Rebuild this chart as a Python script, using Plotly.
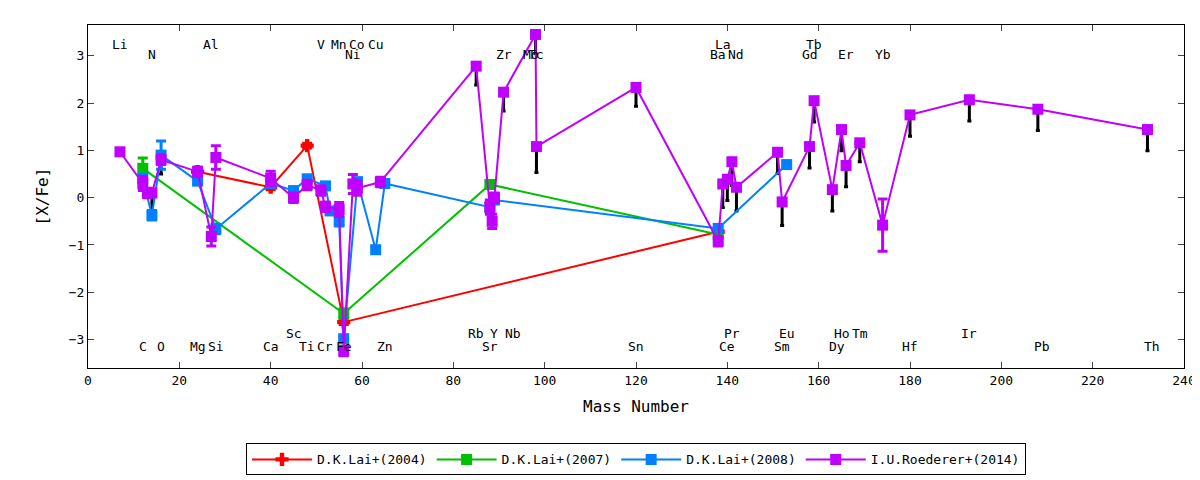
import plotly.graph_objects as go

# I.U.Roederer+(2014)
r14_mass = [7, 12, 13, 14, 16, 24, 27, 28, 40, 45, 48, 51, 52, 55, 56, 58, 59, 64, 85, 88, 88.5, 89, 91, 98, 98.2, 120, 138, 139, 140, 141, 142, 151, 152, 158, 159, 163, 165, 166, 169, 174, 180, 193, 208, 232]
r14_val = [0.97, 0.3, 0.1, 0.1, 0.8, 0.55, -0.82, 0.85, 0.41, 0.0, 0.27, 0.15, -0.19, -0.25, -3.24, 0.29, 0.2, 0.33, 2.78, -0.2, -0.5, 0.0, 2.23, 3.45, 1.08, 2.33, -0.92, 0.29, 0.39, 0.76, 0.22, 0.96, -0.09, 1.08, 2.05, 0.17, 1.44, 0.68, 1.16, -0.58, 1.75, 2.07, 1.87, 1.44]
r14_err = [0, 0.15, 0.1, 0, 0.1, 0.1, 0.2, 0.25, 0.15, 0.1, 0.1, 0.1, 0.1, 0.15, 0.1, 0.2, 0.15, 0.1, 0, 0.15, 0.15, 0.1, 0, 0, 0, 0, 0.1, 0, 0, 0, 0, 0, 0, 0, 0, 0, 0, 0, 0, 0.55, 0, 0, 0, 0]
r14_lim = [0, 0, 0, 0.5, 0.3, 0, 0, 0, 0, 0, 0, 0, 0, 0, 0, 0, 0, 0, 0.4, 0, 0, 0, 0.4, 0.4, 0.55, 0.4, 0, 0.5, 0.45, 0.5, 0.5, 0.45, 0.5, 0.45, 0.45, 0.45, 0.45, 0.45, 0.4, 0, 0.45, 0.45, 0.45, 0.45]

# D.K.Lai+(2004)
l04_mass = [24, 40, 48, 56, 138]
l04_val = [0.55, 0.22, 1.1, -2.63, -0.72]
# D.K.Lai+(2007)
l07_mass = [12, 56, 88, 138]
l07_val = [0.62, -2.45, 0.28, -0.78]
l07_err = [0.22, 0.1, 0.05, 0.05]
# D.K.Lai+(2008)
l08_mass = [12, 14, 16, 24, 28, 40, 45, 48, 52, 53, 55, 56, 59, 63, 65, 88, 89, 138, 153]
l08_val = [0.4, -0.37, 0.9, 0.35, -0.66, 0.3, 0.15, 0.4, 0.25, -0.28, -0.5, -2.98, 0.34, -1.1, 0.3, -0.2, -0.05, -0.65, 0.7]
l08_err = [0.1, 0.1, 0.3, 0.05, 0.1, 0.05, 0.05, 0.05, 0.05, 0.05, 0.1, 0.05, 0.05, 0.05, 0.05, 0.1, 0.05, 0.05, 0.05]

top1 = [("Li", 7), ("Al", 27), ("V", 51), ("Mn", 55), ("Co", 59), ("Cu", 63), ("La", 139), ("Tb", 159)]
top2 = [("N", 14), ("Ni", 58), ("Zr", 91), ("Mo", 97), ("Tc", 98), ("Ba", 138), ("Nd", 142), ("Gd", 158), ("Er", 166), ("Yb", 174)]
bot1 = [("Sc", 45), ("Rb", 85), ("Y", 89), ("Nb", 93), ("Pr", 141), ("Eu", 153), ("Ho", 165), ("Tm", 169), ("Ir", 193)]
bot2 = [("C", 12), ("O", 16), ("Mg", 24), ("Si", 28), ("Ca", 40), ("Ti", 48), ("Cr", 52), ("Fe", 56), ("Zn", 65), ("Sr", 88), ("Sn", 120), ("Ce", 140), ("Sm", 152), ("Dy", 164), ("Hf", 180), ("Pb", 209), ("Th", 233)]

FONT = "DejaVu Sans Mono"
fig = go.Figure()

lm = [m for m, l in zip(r14_mass, r14_lim) if l > 0]
lv = [v for v, l in zip(r14_val, r14_lim) if l > 0]
ll = [l for l in r14_lim if l > 0]
fig.add_trace(go.Scatter(x=lm, y=lv, mode="markers", marker=dict(size=1, color="black"),
                         error_y=dict(type="data", symmetric=False, array=[0]*len(ll), arrayminus=ll,
                                      color="black", thickness=3, width=2),
                         showlegend=False, hoverinfo="skip"))

def add(name, x, y, err, color, sym):
    fig.add_trace(go.Scatter(x=x, y=y, name=name, mode="lines+markers",
                             line=dict(color=color, width=2),
                             marker=dict(color=color, size=11, symbol=sym),
                             error_y=dict(type="data", array=err, color=color, thickness=3, width=5)))

add("D.K.Lai+(2004)", l04_mass, l04_val, [0.05]*len(l04_val), "#ff0000", "cross")
add("D.K.Lai+(2007)", l07_mass, l07_val, l07_err, "#00c000", "square")
add("D.K.Lai+(2008)", l08_mass, l08_val, l08_err, "#0080ff", "square")
add("I.U.Roederer+(2014)", r14_mass, r14_val, r14_err, "#c000ff", "square")

ann = []
for lst, yp in [(top1, 0.972), (top2, 0.941), (bot1, 0.073), (bot2, 0.034)]:
    for t, m in lst:
        ann.append(dict(x=m, y=yp, xref="x", yref="paper", text=t, showarrow=False,
                        font=dict(family=FONT, size=13, color="black")))

fig.update_layout(
    width=1200, height=480, plot_bgcolor="white", paper_bgcolor="white",
    margin=dict(l=80, r=24, t=17, b=105),
    font=dict(family=FONT, size=13, color="black"),
    annotations=ann,
    xaxis=dict(range=[0, 240], dtick=20, showgrid=False, zeroline=False, mirror="ticks",
               ticks="inside", ticklen=6, showline=True, linecolor="black", linewidth=1,
               automargin=False, title=dict(text="Mass Number", standoff=14)),
    yaxis=dict(range=[-3.6, 3.65], dtick=1, showgrid=False, zeroline=False, mirror="ticks",
               ticks="inside", ticklen=6, showline=True, linecolor="black", linewidth=1,
               automargin=False, title=dict(text="[X/Fe]", standoff=16)),
    legend=dict(orientation="h", x=0.5, xanchor="center", y=-0.22, yanchor="top",
                bordercolor="black", borderwidth=1, itemwidth=60,
                font=dict(family=FONT, size=13)),
)
fig.write_html("out.html")
